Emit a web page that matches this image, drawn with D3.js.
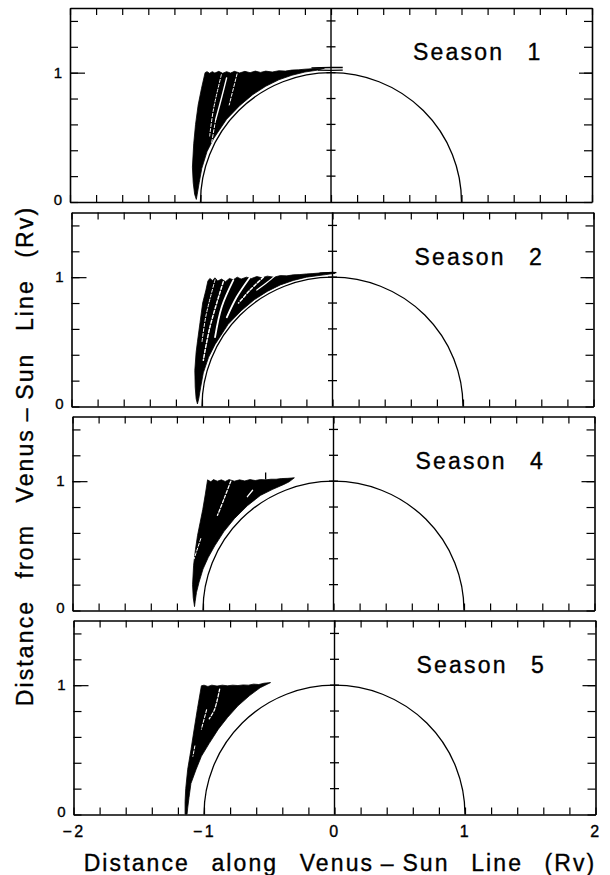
<!DOCTYPE html>
<html><head><meta charset="utf-8">
<script src="https://cdn.jsdelivr.net/npm/d3@7"></script>
<style>body{margin:0;background:#fff} svg{display:block}</style>
</head><body>
<svg id="c" width="610" height="875"></svg>
<script>
// ---------- data ----------
const seasons = ["1", "2", "4", "5"];
const xDomain = [-2, 2];
const yDomain = [0, 1.5];
const xTickValues = [-2, -1.8, -1.6, -1.4, -1.2, -1, -0.8, -0.6, -0.4, -0.2, 0, 0.2, 0.4, 0.6, 0.8, 1, 1.2, 1.4, 1.6, 1.8, 2];
const yTickValues = [0, 0.2, 0.4, 0.6, 0.8, 1, 1.2, 1.4];
const xTickLabels = [-2, -1, 0, 1, 2];
const yTickLabels = [0, 1];
const yMajorTick = [1];
const venusRadius = 1;

// outline of the bundle of trajectories (x, y in Rv) for each season
const envelope1 = [[-0.965,1.0],[-0.95,1.008],[-0.93,0.995],[-0.91,1.008],[-0.89,0.997],[-0.86,1.01],[-0.83,0.995],[-0.8,1.008],[-0.77,0.997],[-0.74,1.01],[-0.7,0.998],[-0.66,1.01],[-0.62,1.0],[-0.58,1.012],[-0.54,1.002],[-0.5,1.012],[-0.45,1.005],[-0.4,1.015],[-0.35,1.012],[-0.3,1.02],[-0.25,1.022],[-0.2,1.027],[-0.15,1.03],[-0.1,1.035],[-0.05,1.035],
  [-0.1,1.02],[-0.2,1.005],[-0.3,0.98],[-0.4,0.945],[-0.5,0.895],[-0.6,0.83],[-0.7,0.745],[-0.8,0.64],[-0.9,0.49],[-0.95,0.39],[-0.99,0.26],[-1.01,0.15],[-1.025,0.06],[-1.032,0.02],
  [-1.045,0.06],[-1.056,0.15],[-1.062,0.27],[-1.052,0.45],[-1.038,0.6],[-1.018,0.75],[-0.992,0.88]];
const envelope2 = [[-0.955,0.97],[-0.94,0.99],[-0.92,0.975],[-0.9,0.995],[-0.88,0.97],[-0.85,0.985],[-0.82,0.965],[-0.79,0.99],[-0.76,0.98],[-0.73,1.0],[-0.7,0.985],[-0.66,1.0],[-0.62,0.99],[-0.58,1.005],[-0.54,0.995],[-0.5,1.008],[-0.45,1.0],[-0.4,1.012],[-0.35,1.01],[-0.3,1.018],[-0.25,1.02],[-0.2,1.025],[-0.15,1.028],[-0.1,1.032],[-0.05,1.035],[0.0,1.036],[0.02,1.03],
  [-0.05,1.02],[-0.2,1.0],[-0.3,0.975],[-0.4,0.94],[-0.5,0.89],[-0.6,0.825],[-0.7,0.74],[-0.8,0.635],[-0.9,0.48],[-0.95,0.38],[-0.99,0.26],[-1.01,0.15],[-1.025,0.06],[-1.035,0.02],
  [-1.045,0.06],[-1.052,0.15],[-1.055,0.28],[-1.045,0.42],[-1.035,0.5],[-1.015,0.65],[-0.995,0.8],[-0.97,0.9]];
const envelope3 = [[-0.965,1.01],[-0.94,0.995],[-0.92,1.012],[-0.89,1.0],[-0.86,1.01],[-0.83,0.998],[-0.8,1.012],[-0.76,1.0],[-0.72,1.01],[-0.68,1.002],[-0.64,1.012],[-0.6,1.005],[-0.56,1.012],[-0.52,1.01],[-0.48,1.015],[-0.44,1.015],[-0.4,1.02],[-0.35,1.022],[-0.3,1.026],
  [-0.34,0.995],[-0.38,0.975],[-0.47,0.935],[-0.56,0.89],[-0.66,0.81],[-0.76,0.71],[-0.84,0.61],[-0.91,0.5],[-0.96,0.41],[-1.0,0.32],[-1.03,0.22],[-1.05,0.14],[-1.06,0.07],[-1.065,0.03],
  [-1.075,0.1],[-1.08,0.2],[-1.072,0.35],[-1.058,0.47],[-1.042,0.58],[-1.022,0.68],[-1.002,0.78],[-0.982,0.9]];
const envelope4 = [[-1.02,0.995],[-1.0,1.0],[-0.97,0.99],[-0.94,1.0],[-0.9,0.993],[-0.86,1.0],[-0.82,0.995],[-0.78,1.0],[-0.74,0.997],[-0.7,1.002],[-0.66,1.0],[-0.62,1.008],[-0.58,1.005],[-0.54,1.015],[-0.49,1.02],
  [-0.57,0.98],[-0.65,0.92],[-0.74,0.84],[-0.82,0.75],[-0.89,0.66],[-0.96,0.55],[-1.02,0.45],[-1.06,0.35],[-1.10,0.24],[-1.115,0.13],[-1.125,0.05],[-1.13,0.0],
  [-1.145,0.0],[-1.145,0.1],[-1.14,0.2],[-1.125,0.35],[-1.1,0.5],[-1.08,0.63],[-1.05,0.82]];

// single trajectories that stand out from the bundle
const strands1 = [[[-0.15,1.037],[0.0,1.04],[0.09,1.04]], [[-0.1,1.02],[0.0,1.018],[0.09,1.02]]];
const strands2 = [[[-0.1,1.032],[0.0,1.036],[0.03,1.035]]];
const strands3 = [[[-0.52,1.012],[-0.52,1.067]]];
const strands4 = [];

// gaps between trajectories (white)
const gaps1 = [[[-0.8,0.96],[-0.84,0.8],[-0.884,0.636]], [[-0.884,0.636],[-0.915,0.455]], [[-0.84,0.985],[-0.9,0.72],[-0.93,0.51]], [[-0.72,0.99],[-0.78,0.75]]];
const gaps2 = [[[-0.837,0.964],[-0.939,0.615],[-0.99,0.357]], [[-0.76,0.977],[-0.849,0.77],[-0.9,0.537]], [[-0.632,1.0],[-0.734,0.847],[-0.81,0.69]], [[-0.53,1.0],[-0.632,0.9],[-0.72,0.8]], [[-0.9,0.98],[-0.97,0.7],[-1.0,0.5]], [[-0.43,1.02],[-0.5,0.96],[-0.58,0.9]]];
const gaps3 = [[[-0.787,1.0],[-0.84,0.86],[-0.889,0.736]], [[-0.62,0.93],[-0.66,0.88]], [[-1.017,0.556],[-1.068,0.40]]];
const gaps4 = [[[-0.88,0.97],[-0.92,0.81],[-0.96,0.74]], [[-0.98,0.81],[-1.02,0.66]], [[-1.07,0.53],[-1.085,0.45]]];
const gapWidths = [[1.4,1.0,1.0,1.0],[1.5,1.8,1.8,1.5,1.0,1.2],[1.3,1.3,1.0],[1.3,1.1,1.0]];
const gapDashed = [[false,true,true,true],[true,false,false,true,true,false],[true,false,true],[true,true,true]];

const envelopes = [envelope1, envelope2, envelope3, envelope4];
const strands = [strands1, strands2, strands3, strands4];
const gaps = [gaps1, gaps2, gaps3, gaps4];

// ---------- layout ----------
const panelLeft = [70, 71.5, 72.5, 73.5];
const panelTop = [8, 212.5, 416.5, 620.5];
const W = 522, H = 194;
const FONT = "'Liberation Sans', Arial, Helvetica, sans-serif";

const svg = d3.select("#c");
const thicken = sel => sel.attr("stroke", "#000").attr("stroke-width", 0.35);

seasons.forEach((s, i) => {
  const x = d3.scaleLinear().domain(xDomain).range([panelLeft[i], panelLeft[i] + W]);
  const y = d3.scaleLinear().domain(yDomain).range([panelTop[i] + H, panelTop[i]]);
  const g = svg.append("g");
  const clipId = "clip" + i;
  svg.append("clipPath").attr("id", clipId).append("rect")
    .attr("x", x(xDomain[0])).attr("y", y(yDomain[1]))
    .attr("width", W).attr("height", H);
  const plot = g.append("g").attr("clip-path", `url(#${clipId})`);

  const line = d3.line().x(d => x(d[0])).y(d => y(d[1]));

  // trajectory bundle
  plot.append("path").datum(envelopes[i])
    .attr("d", d => line(d) + "Z")
    .attr("fill", "#000").attr("stroke", "#000").attr("stroke-width", 0.8)
    .attr("stroke-linejoin", "round");
  strands[i].forEach(st => {
    plot.append("path").datum(st).attr("d", line)
      .attr("fill", "none").attr("stroke", "#000").attr("stroke-width", 1.3);
  });
  gaps[i].forEach((gp, k) => {
    plot.append("path").datum(gp).attr("d", d3.line().x(d => x(d[0])).y(d => y(d[1])).curve(d3.curveCatmullRom))
      .attr("fill", "none").attr("stroke", "#fff")
      .attr("stroke-width", gapWidths[i][k])
      .attr("stroke-dasharray", gapDashed[i][k] ? "3,2" : null)
      .attr("stroke-linecap", "round");
  });

  // Venus (upper half)
  plot.append("ellipse")
    .attr("cx", x(0)).attr("cy", y(0))
    .attr("rx", x(venusRadius) - x(0)).attr("ry", y(0) - y(venusRadius))
    .attr("fill", "none").attr("stroke", "#000").attr("stroke-width", 1.3);

  // Venus–Sun line (x = 0) with cross ticks
  g.append("line").attr("x1", x(0)).attr("x2", x(0))
    .attr("y1", y(yDomain[0])).attr("y2", y(yDomain[1]))
    .attr("stroke", "#000").attr("stroke-width", 1.4);
  g.selectAll("line.cross").data(yTickValues.filter(v => v > 0)).enter().append("line")
    .attr("class", "cross")
    .attr("x1", x(0) - 4.5).attr("x2", x(0) + 4.5)
    .attr("y1", d => y(d)).attr("y2", d => y(d))
    .attr("stroke", "#000").attr("stroke-width", 1.3);

  // frame axes with inward ticks
  const styleAxis = sel => {
    sel.selectAll("path.domain").attr("stroke", "#000").attr("stroke-width", 1.6);
    sel.selectAll(".tick line").attr("stroke", "#000").attr("stroke-width", 1.2);
  };
  g.append("g").attr("transform", `translate(0,${y(0)})`)
    .call(d3.axisBottom(x).tickValues(xTickValues).tickSize(-7).tickSizeOuter(0).tickFormat(""))
    .call(styleAxis);
  g.append("g").attr("transform", `translate(0,${y(yDomain[1])})`)
    .call(d3.axisTop(x).tickValues(xTickValues).tickSize(-7).tickSizeOuter(0).tickFormat(""))
    .call(styleAxis);
  g.append("g").attr("transform", `translate(${x(xDomain[0])},0)`)
    .call(d3.axisLeft(y).tickValues(yTickValues).tickSize(-8).tickSizeOuter(0).tickFormat(""))
    .call(styleAxis);
  g.append("g").attr("transform", `translate(${x(xDomain[0])},0)`)
    .call(d3.axisLeft(y).tickValues(yMajorTick).tickSize(-15).tickSizeOuter(0).tickFormat(""))
    .call(styleAxis).select("path.domain").remove();
  g.append("g").attr("transform", `translate(${x(xDomain[1])},0)`)
    .call(d3.axisRight(y).tickValues(yTickValues).tickSize(-8).tickSizeOuter(0).tickFormat(""))
    .call(styleAxis);
  g.append("g").attr("transform", `translate(${x(xDomain[1])},0)`)
    .call(d3.axisRight(y).tickValues(yMajorTick).tickSize(-13).tickSizeOuter(0).tickFormat(""))
    .call(styleAxis).select("path.domain").remove();

  // y tick labels
  const yl = g.append("g").attr("transform", `translate(${x(xDomain[0])},0)`)
    .call(d3.axisLeft(y).tickValues(yTickLabels).tickSize(0).tickPadding(8).tickFormat(d3.format("d")));
  yl.select("path.domain").remove();
  yl.selectAll("text").attr("font-family", FONT).attr("font-size", 15).attr("fill", "#000")
    .attr("dy", d => d === 0 ? "0.15em" : "0.32em").call(thicken);

  // season label
  g.append("text").attr("x", x(xDomain[0]) + 343).attr("y", y(yDomain[1]) + 52)
    .attr("font-family", FONT).attr("font-size", 23).attr("letter-spacing", 2.2)
    .call(thicken).text("Season");
  g.append("text").attr("x", x(xDomain[0]) + 464).attr("y", y(yDomain[1]) + 52)
    .attr("text-anchor", "middle")
    .attr("font-family", FONT).attr("font-size", 23)
    .call(thicken).text(s);

  // x tick labels on the bottom panel
  if (i === seasons.length - 1) {
    const xl = g.append("g").attr("transform", `translate(0,${y(0)})`)
      .call(d3.axisBottom(x).tickValues(xTickLabels).tickSize(0).tickPadding(11)
        .tickFormat(d => d < 0 ? "\u2212" + Math.abs(d) : String(d)));
    xl.select("path.domain").remove();
    xl.selectAll("text").attr("font-family", FONT).attr("font-size", 16).attr("fill", "#000")
      .attr("letter-spacing", 2.5).call(thicken);
  }
});

// axis titles
svg.append("text")
  .attr("transform", "translate(33,456) rotate(-90)")
  .attr("text-anchor", "middle")
  .attr("font-family", FONT).attr("font-size", 23)
  .attr("letter-spacing", 2.1).attr("word-spacing", 13)
  .call(thicken)
  .text("Distance from Venus\u2009\u2013\u2009Sun Line (Rv)");
svg.append("text")
  .attr("x", 340).attr("y", 871)
  .attr("text-anchor", "middle")
  .attr("font-family", FONT).attr("font-size", 23)
  .attr("letter-spacing", 2.1).attr("word-spacing", 13)
  .call(thicken)
  .text("Distance along Venus\u2009\u2013\u2009Sun Line (Rv)");
</script>
</body></html>
